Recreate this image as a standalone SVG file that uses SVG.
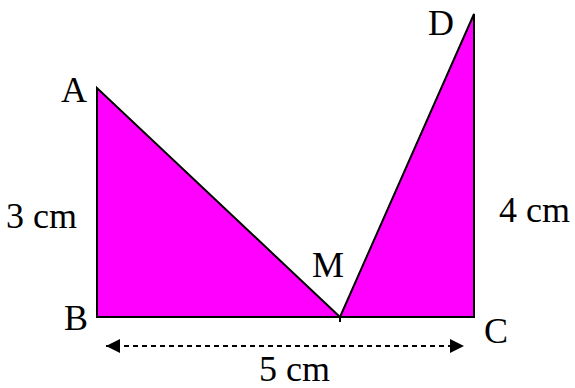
<svg xmlns="http://www.w3.org/2000/svg" width="575" height="388" viewBox="0 0 575 388">
<defs>
<style>
.tri{fill:#ff00ff;stroke:#000;stroke-width:2;stroke-linejoin:miter}
.lbl{font-size:36px;fill:#000}
.ln{stroke:#000;stroke-width:2;fill:none}
</style>
<marker id="ah" viewBox="0 0 14 14" refX="14" refY="7" markerWidth="15" markerHeight="14" markerUnits="userSpaceOnUse" orient="auto-start-reverse">
<path d="M0,0 L14,7 L0,14 z" fill="#000"/>
</marker>
</defs>
<rect width="575" height="388" fill="#fff"/>
<g id="triangleABM"><polygon class="tri" points="97,88 97,317 340,317"/></g>
<g id="triangleMCD"><polygon class="tri" points="340,317 474,14 474,317"/></g>
<g id="connectors">
<line class="ln" x1="97" y1="317" x2="474" y2="317"/>
<line class="ln" x1="340" y1="317" x2="340" y2="322"/>
<line x1="106" y1="346" x2="464" y2="346" stroke="#000" stroke-width="2" stroke-dasharray="5,4" marker-start="url(#ah)" marker-end="url(#ah)"/>
</g>
<g id="labels" font-family="'Liberation Serif','Times New Roman','DejaVu Serif',serif">
<text class="lbl" x="61" y="102">A</text>
<text class="lbl" x="64" y="330">B</text>
<text class="lbl" x="484" y="343">C</text>
<text class="lbl" x="428" y="35">D</text>
<text class="lbl" x="312" y="277">M</text>
<text class="lbl" x="6" y="228">3 cm</text>
<text class="lbl" x="499" y="222">4 cm</text>
<text class="lbl" x="259" y="381">5 cm</text>
</g>
</svg>
